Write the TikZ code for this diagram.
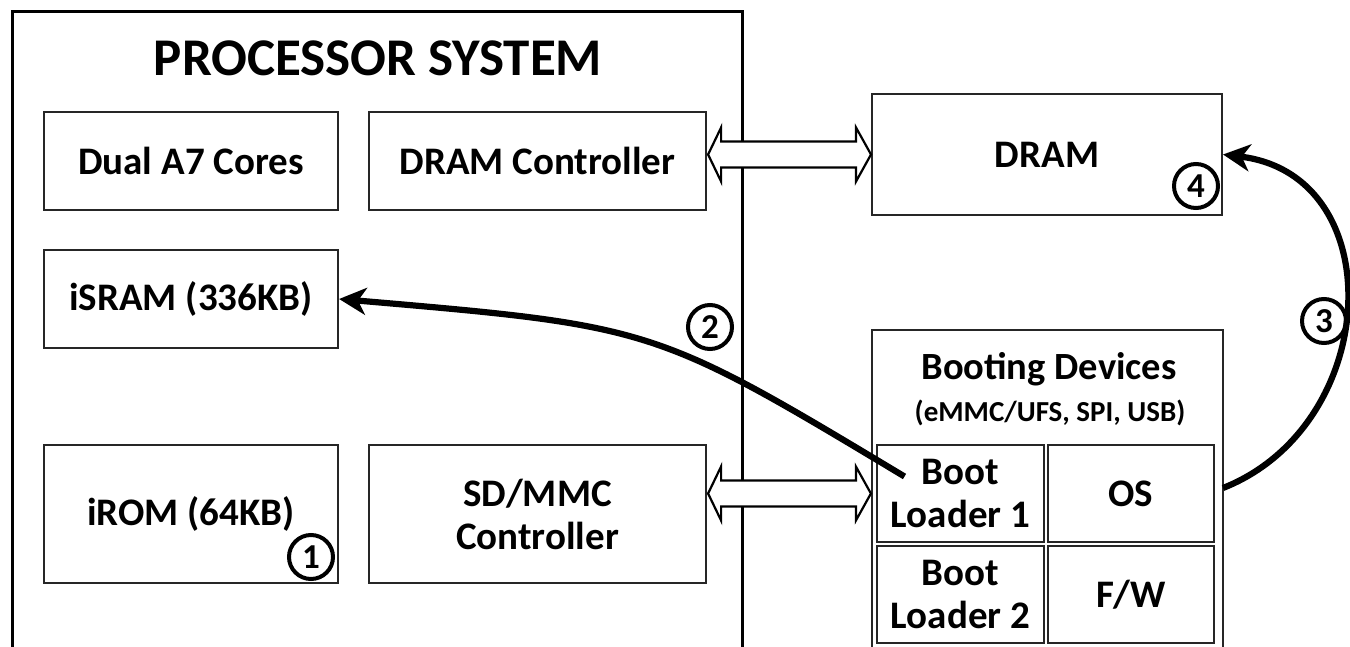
\documentclass[tikz,border=0pt]{standalone}
\usepackage{fontspec}
\setmainfont{Carlito}
\usetikzlibrary{arrows.meta,calc}

\tikzset{
  frame/.style={draw=black, line width=3pt},
  unit/.style={draw=black!85, line width=2.2pt, fill=white, inner sep=0pt,
    align=center, font=\fontsize{39}{43}\selectfont\bfseries},
  cell/.style={unit, line width=2.6pt},
  title/.style={font=\fontsize{53}{60}\selectfont\bfseries},
  subtitle/.style={font=\fontsize{38.5}{42}\selectfont\bfseries},
  small/.style={font=\fontsize{29}{32}\selectfont\bfseries},
  stepnum/.style={circle, draw=black, line width=4pt, minimum size=44pt,
    inner sep=0pt, font=\fontsize{35}{35}\selectfont\bfseries},
  flow/.style={line width=6.2pt,
    -{Stealth[length=27pt, width=27pt, inset=8pt]}},
  bus/.style={draw=black, line width=2.2pt, fill=white, line join=miter}
}

% hollow double-headed bus arrow between two points on one level
\newcommand\busarrow[2]{%
  \draw[bus] let \p1=(#1), \p2=(#2) in
    (\x1+1pt,\y1) -- (\x1+14pt,\y1+27pt) -- (\x1+14pt,\y1+13pt)
    -- (\x2-15pt,\y1+13pt) -- (\x2-15pt,\y1+27pt) -- (\x2,\y1)
    -- (\x2-15pt,\y1-27pt) -- (\x2-15pt,\y1-13pt)
    -- (\x1+14pt,\y1-13pt) -- (\x1+14pt,\y1-27pt) -- cycle;}

\begin{document}
\begin{tikzpicture}[x=1pt, y=-1pt]
\useasboundingbox (0,0) rectangle (1350,647);
\clip (0,0) rectangle (1350,647);
\fill[white] (0,0) rectangle (1350,647);

% processor system
\draw[frame] (12,12) rectangle (742,720);
\node[title] (title) at (378,58) {PROCESSOR SYSTEM};

\node[unit, minimum width=294pt, minimum height=98pt] (cores) at (191,161) {Dual A7 Cores};
\node[unit, minimum width=337pt, minimum height=98pt] (dramc) at (537.5,161) {DRAM Controller};
\node[unit, minimum width=294pt, minimum height=98pt] (isram) at (191,299) {iSRAM (336KB)};
\node[unit, minimum width=294pt, minimum height=138pt] (irom) at (191,514) {iROM (64KB)};
\node[unit, minimum width=337pt, minimum height=138pt] (sdmmc) at (537.5,514) {SD/MMC\\Controller};

% external memory
\node[unit, line width=2pt, minimum width=350pt, minimum height=121pt] (dram) at (1047,154.5) {DRAM};

% booting devices
\node[unit, minimum width=351pt, minimum height=390pt] (boot) at (1047.5,525) {};
\node[subtitle] (bdtitle) at (1049,369) {Booting Devices};
\node[small] (bdsub) at (1050,413) {(eMMC/UFS, SPI, USB)};
\node[cell, minimum width=167pt, minimum height=97pt] (bl1) at (960.5,493.5) {Boot\\Loader 1};
\node[cell, minimum width=166pt, minimum height=97pt] (os) at (1131,493.5) {OS};
\node[cell, minimum width=167pt, minimum height=97pt] (bl2) at (960.5,594.5) {Boot\\Loader 2};
\node[cell, minimum width=166pt, minimum height=97pt] (fw) at (1131,594.5) {F/W};

% buses
\busarrow{dramc.east |- dram.west}{dram.west}
\busarrow{sdmmc.east |- bl1.center}{boot.west |- bl1.center}

% boot flow
\coordinate (s2) at ($(bl1.center)+(-56,-17)$);
\draw[flow] (s2) .. controls (654,326) .. (isram.east);
\coordinate (s3) at (1223,488);
\draw[flow] (s3) .. controls (1382,425) and (1392,175) .. (dram.east);

% step markers
\node[stepnum] (n1) at (311,557) {1};
\node[stepnum] (n2) at (710,327) {2};
\node[stepnum] (n3) at (1324,321) {3};
\node[stepnum] (n4) at (1196,186) {4};
\end{tikzpicture}
\end{document}
